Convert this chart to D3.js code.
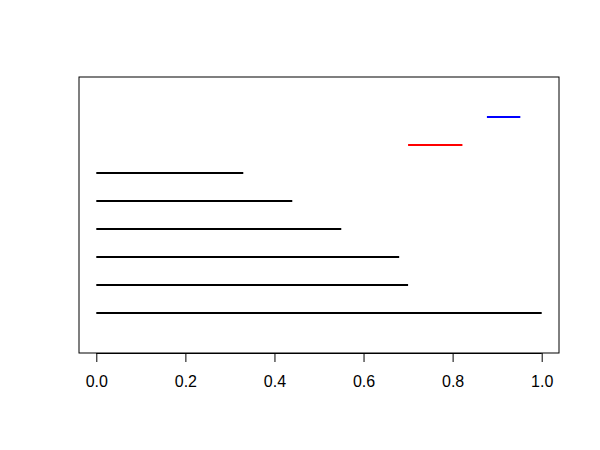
<!DOCTYPE html>
<html>
<head>
<meta charset="utf-8">
<script src="https://cdn.jsdelivr.net/npm/d3@7"></script>
<style>
  body { margin: 0; background: #fff; }
  text { font-family: "Liberation Sans", Arial, sans-serif; }
</style>
</head>
<body>
<div id="chart"></div>
<script>
// Segment rows (bottom to top), start and end on the x scale
const rows = [1, 2, 3, 4, 5, 6, 7, 8];
const starts = [0, 0, 0, 0, 0, 0, 0.70, 0.877];
const ends = [1.0, 0.70, 0.68, 0.55, 0.44, 0.33, 0.822, 0.952];
const colors = ["black", "black", "black", "black", "black", "black", "red", "blue"];
const xTicks = [0, 0.2, 0.4, 0.6, 0.8, 1.0];

const width = 600, height = 450;
const box = { left: 79, right: 559, top: 77, bottom: 353 };

const svg = d3.select("#chart")
    .append("svg")
    .attr("width", width)
    .attr("height", height);

// Scales: 0..1 maps inside the box with R-style 4% padding
const x = d3.scaleLinear().domain([0, 1]).range([96.3, 541.7]);
const y = d3.scaleLinear().domain([1, 8]).range([313, 117]);

// Plot box
svg.append("rect")
    .attr("x", box.left)
    .attr("y", box.top)
    .attr("width", box.right - box.left)
    .attr("height", box.bottom - box.top)
    .attr("fill", "none")
    .attr("stroke", "black")
    .attr("stroke-width", 1);

// Segments
svg.selectAll(".seg")
    .data(rows)
    .enter()
    .append("line")
    .attr("class", "seg")
    .attr("x1", (d, i) => x(starts[i]))
    .attr("x2", (d, i) => x(ends[i]))
    .attr("y1", d => y(d))
    .attr("y2", d => y(d))
    .attr("stroke", (d, i) => colors[i])
    .attr("stroke-width", 2);

// X axis
const xAxis = svg.append("g")
    .attr("transform", `translate(0,${box.bottom})`)
    .call(d3.axisBottom(x)
        .tickValues(xTicks)
        .tickFormat(d3.format(".1f"))
        .tickSize(9)
        .tickPadding(14));

xAxis.select(".domain")
    .attr("d", `M${x(0)},0.5H${x(1)}`)
    .attr("stroke", "black");
xAxis.selectAll(".tick line").attr("stroke", "black");
xAxis.selectAll(".tick text")
    .style("font-size", "16px")
    .style("font-family", "Liberation Sans, Arial, sans-serif")
    .attr("fill", "black");
</script>
</body>
</html>
